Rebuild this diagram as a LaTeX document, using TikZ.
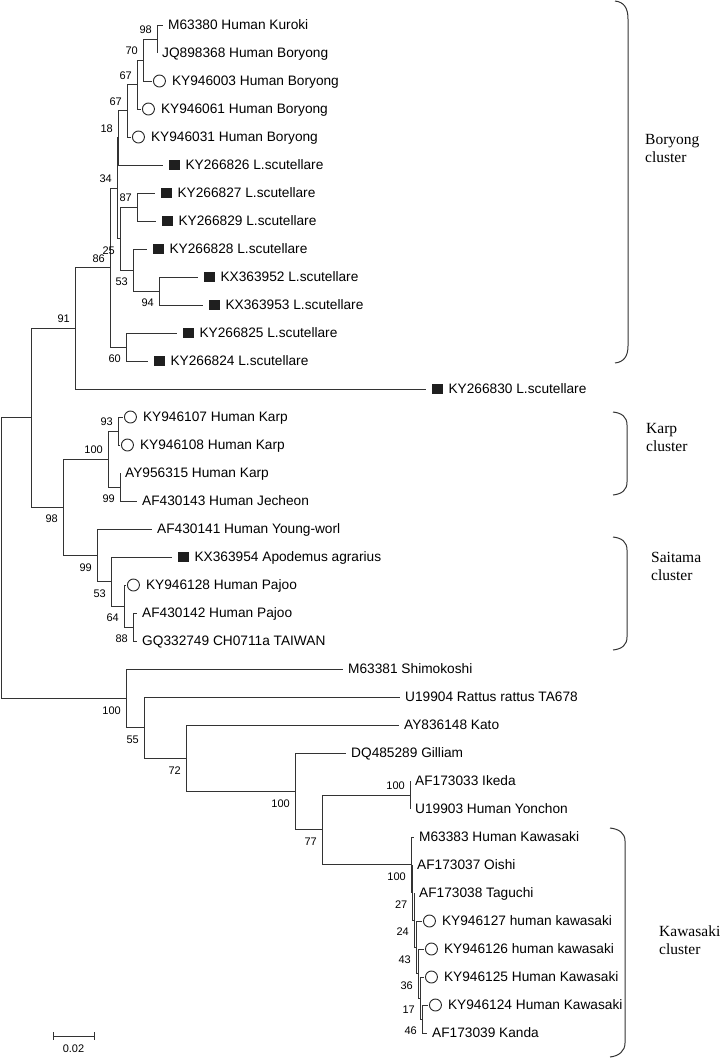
\documentclass[tikz,border=0pt]{standalone}
\usepackage{fontspec}
\setmainfont{Liberation Serif}
\setsansfont{Liberation Sans}
\usetikzlibrary{positioning}

\begin{document}
\begin{tikzpicture}
  [x=1pt,y=-1pt,
   br/.style={draw=black!80,line width=1pt},
   leaf/.style={inner sep=0pt,text height=9.8pt,text depth=0pt,font=\sffamily\fontsize{13.7}{16}\selectfont},
   ring/.style={circle,draw=black!85,line width=0.9pt,minimum size=12pt,inner sep=0pt},
   blk/.style={rectangle,fill=black!88,minimum size=10.5pt,inner sep=0pt},
   bs/.style={inner sep=0pt,font=\sffamily\fontsize{11}{12}\selectfont},
   clu/.style={align=left,anchor=west,inner sep=0pt,font=\fontsize{15.5}{18}\selectfont}]
  \useasboundingbox (0,0) rectangle (720,1058);

  % leaf tips
  \coordinate (t1) at (163,25);   \coordinate (t2) at (157,53);
  \coordinate (t3) at (152,81);   \coordinate (t4) at (141,109);
  \coordinate (t5) at (131,137);  \coordinate (t6) at (163,165);
  \coordinate (t7) at (155,193);  \coordinate (t8) at (156,221);
  \coordinate (t9) at (147,249);  \coordinate (t10) at (198,277);
  \coordinate (t11) at (203,305); \coordinate (t12) at (177,333);
  \coordinate (t13) at (148,361); \coordinate (t14) at (426,389);
  \coordinate (t15) at (123,417); \coordinate (t16) at (120,445);
  \coordinate (t17) at (120,473); \coordinate (t18) at (137,501);
  \coordinate (t19) at (152,529); \coordinate (t20) at (172,557);
  \coordinate (t21) at (126,585); \coordinate (t22) at (137,613);
  \coordinate (t23) at (137,641); \coordinate (t24) at (343,669);
  \coordinate (t25) at (400,697); \coordinate (t26) at (399,725);
  \coordinate (t27) at (346,753); \coordinate (t28) at (410,781);
  \coordinate (t29) at (410,809); \coordinate (t30) at (414,837);
  \coordinate (t31) at (412,865); \coordinate (t32) at (414,893);
  \coordinate (t33) at (422,921); \coordinate (t34) at (424,949);
  \coordinate (t35) at (424,977); \coordinate (t36) at (428,1005);
  \coordinate (t37) at (427,1033);

  % inner nodes
  \coordinate (nA) at (157,39);    \coordinate (nB) at (143,60);
  \coordinate (nC) at (137,84.5);  \coordinate (nD) at (127,110.75);
  \coordinate (nE) at (118,137.9); \coordinate (nF) at (137,207);
  \coordinate (nG) at (159,291);   \coordinate (nH) at (133,270);
  \coordinate (nI) at (120,238.5); \coordinate (nJ) at (117,188.2);
  \coordinate (nK) at (126,347);   \coordinate (nL) at (110,267.6);
  \coordinate (nM) at (75,328.3);  \coordinate (nN) at (118,431);
  \coordinate (nO) at (120,487);   \coordinate (nP) at (108,459);
  \coordinate (nQ) at (133,627);   \coordinate (nR) at (124,606);
  \coordinate (nS) at (111,581.5); \coordinate (nT) at (97,555.25);
  \coordinate (nU) at (63,507.1);  \coordinate (nV) at (31,417.7);
  \coordinate (nKa) at (422,1019);   \coordinate (nKb) at (420,998);
  \coordinate (nKc) at (418,973.5);  \coordinate (nKd) at (416,947.25);
  \coordinate (nKe) at (414,920.1);  \coordinate (nKf) at (412.5,892.6);
  \coordinate (nKg) at (411,864.8);  \coordinate (nKh) at (410,795);
  \coordinate (nKi) at (322,829.9);  \coordinate (nKj) at (295,791.4);
  \coordinate (nKk) at (186,758.2);  \coordinate (nKl) at (144,727.6);
  \coordinate (nKm) at (126,698.3);  \coordinate (rt) at (1,558);

\foreach \from/\to in
{nA/t1, nA/t2, nB/nA, nB/t3, nC/nB, nC/t4, nD/nC, nD/t5, nE/nD, nE/t6,
 nF/t7, nF/t8, nG/t10, nG/t11, nH/t9, nH/nG, nI/nF, nI/nH, nJ/nE, nJ/nI,
 nK/t12, nK/t13, nL/nJ, nL/nK, nM/nL, nM/t14, nN/t15, nN/t16, nO/t17, nO/t18,
 nP/nN, nP/nO, nQ/t22, nQ/t23, nR/t21, nR/nQ, nS/t20, nS/nR, nT/t19, nT/nS,
 nU/nP, nU/nT, nV/nM, nV/nU,
 nKa/t36, nKa/t37, nKb/t35, nKb/nKa, nKc/t34, nKc/nKb, nKd/t33, nKd/nKc,
 nKe/t32, nKe/nKd, nKf/t31, nKf/nKe, nKg/t30, nKg/nKf, nKh/t28, nKh/t29,
 nKi/nKh, nKi/nKg, nKj/t27, nKj/nKi, nKk/t26, nKk/nKj, nKl/t25, nKl/nKk,
 nKm/t24, nKm/nKl, rt/nV, rt/nKm}
    \draw[br] (\from) |- (\to);

  % plain leaves
\foreach \t/\txt in
{t1/M63380 Human Kuroki, t2/JQ898368 Human Boryong, t17/AY956315 Human Karp,
 t18/AF430143 Human Jecheon, t19/AF430141 Human Young-worl, t22/AF430142 Human Pajoo,
 t23/GQ332749 CH0711a TAIWAN, t24/M63381 Shimokoshi, t25/U19904 Rattus rattus TA678,
 t26/AY836148 Kato, t27/DQ485289 Gilliam, t28/AF173033 Ikeda, t29/U19903 Human Yonchon,
 t30/M63383 Human Kawasaki, t31/AF173037 Oishi, t32/AF173038 Taguchi, t37/AF173039 Kanda}
    \node[leaf,right=5pt of \t] (n\t) {\txt};

  % human isolates
\foreach \t/\txt in
{t3/KY946003 Human Boryong, t4/KY946061 Human Boryong, t5/KY946031 Human Boryong,
 t15/KY946107 Human Karp, t16/KY946108 Human Karp, t21/KY946128 Human Pajoo,
 t33/KY946127 human kawasaki, t34/KY946126 human kawasaki,
 t35/KY946125 Human Kawasaki, t36/KY946124 Human Kawasaki}
{
    \node[ring,right=1pt of \t] (m\t) {};
    \node[leaf,right=6pt of m\t] (n\t) {\txt};
}

  % mite / rodent isolates
\foreach \t/\txt in
{t6/KY266826 L.scutellare, t7/KY266827 L.scutellare, t8/KY266829 L.scutellare,
 t9/KY266828 L.scutellare, t10/KX363952 L.scutellare, t11/KX363953 L.scutellare,
 t12/KY266825 L.scutellare, t13/KY266824 L.scutellare, t14/KY266830 L.scutellare,
 t20/KX363954 Apodemus agrarius}
{
    \node[blk,right=6pt of \t] (m\t) {};
    \node[leaf,right=5.5pt of m\t] (n\t) {\txt};
}

  % bootstrap values
\foreach \n/\v in
{nA/98, nB/70, nC/67, nD/67, nE/18, nJ/34, nF/87, nL/86, nM/91, nN/93, nP/100, nKh/100}
    \node[bs,above left=5pt and 5pt of \n] (b\n) {\v};
\foreach \n/\v in
{nI/25, nH/53, nG/94, nK/60, nO/99, nU/98, nT/99, nS/53, nR/64, nQ/88,
 nKm/100, nKl/55, nKk/72, nKj/100, nKi/77, nKg/100, nKf/27, nKe/24,
 nKd/43, nKc/36, nKb/17, nKa/46}
    \node[bs,below left=8pt and 5pt of \n] (b\n) {\v};

  % clusters
  \draw[br] (615,1) .. controls (624,2) and (628,8) .. (628,19) -- (628,346)
    .. controls (628,356) and (624,362) .. (615,363);
  \draw[br] (613,412) .. controls (622,413) and (627,417) .. (627,425) -- (627,482)
    .. controls (627,490) and (622,494) .. (613,495);
  \draw[br] (613,537) .. controls (622,538) and (627,542) .. (627,550) -- (627,637)
    .. controls (627,645) and (622,649) .. (613,650);
  \draw[br] (610,828) .. controls (619,829) and (625,833) .. (625,841) -- (625,1043)
    .. controls (625,1051) and (619,1056) .. (610,1057);
  \node[clu] (cB) at (645,148) {Boryong\\cluster};
  \node[clu] (cK) at (646,437.5) {Karp\\cluster};
  \node[clu] (cS) at (651,566) {Saitama\\cluster};
  \node[clu] (cW) at (659,940.5) {Kawasaki\\cluster};

  % scale bar
  \coordinate (s1) at (53,1036);
  \coordinate (s2) at (94,1036);
  \coordinate (sm) at (73.5,1036);
  \draw[br] (s1) -- (s2);
  \draw[br] ([yshift=4pt]s1) -- ([yshift=-4pt]s1);
  \draw[br] ([yshift=4pt]s2) -- ([yshift=-4pt]s2);
  \node[bs,below=9pt of sm] (sl) {0.02};
\end{tikzpicture}
\end{document}
